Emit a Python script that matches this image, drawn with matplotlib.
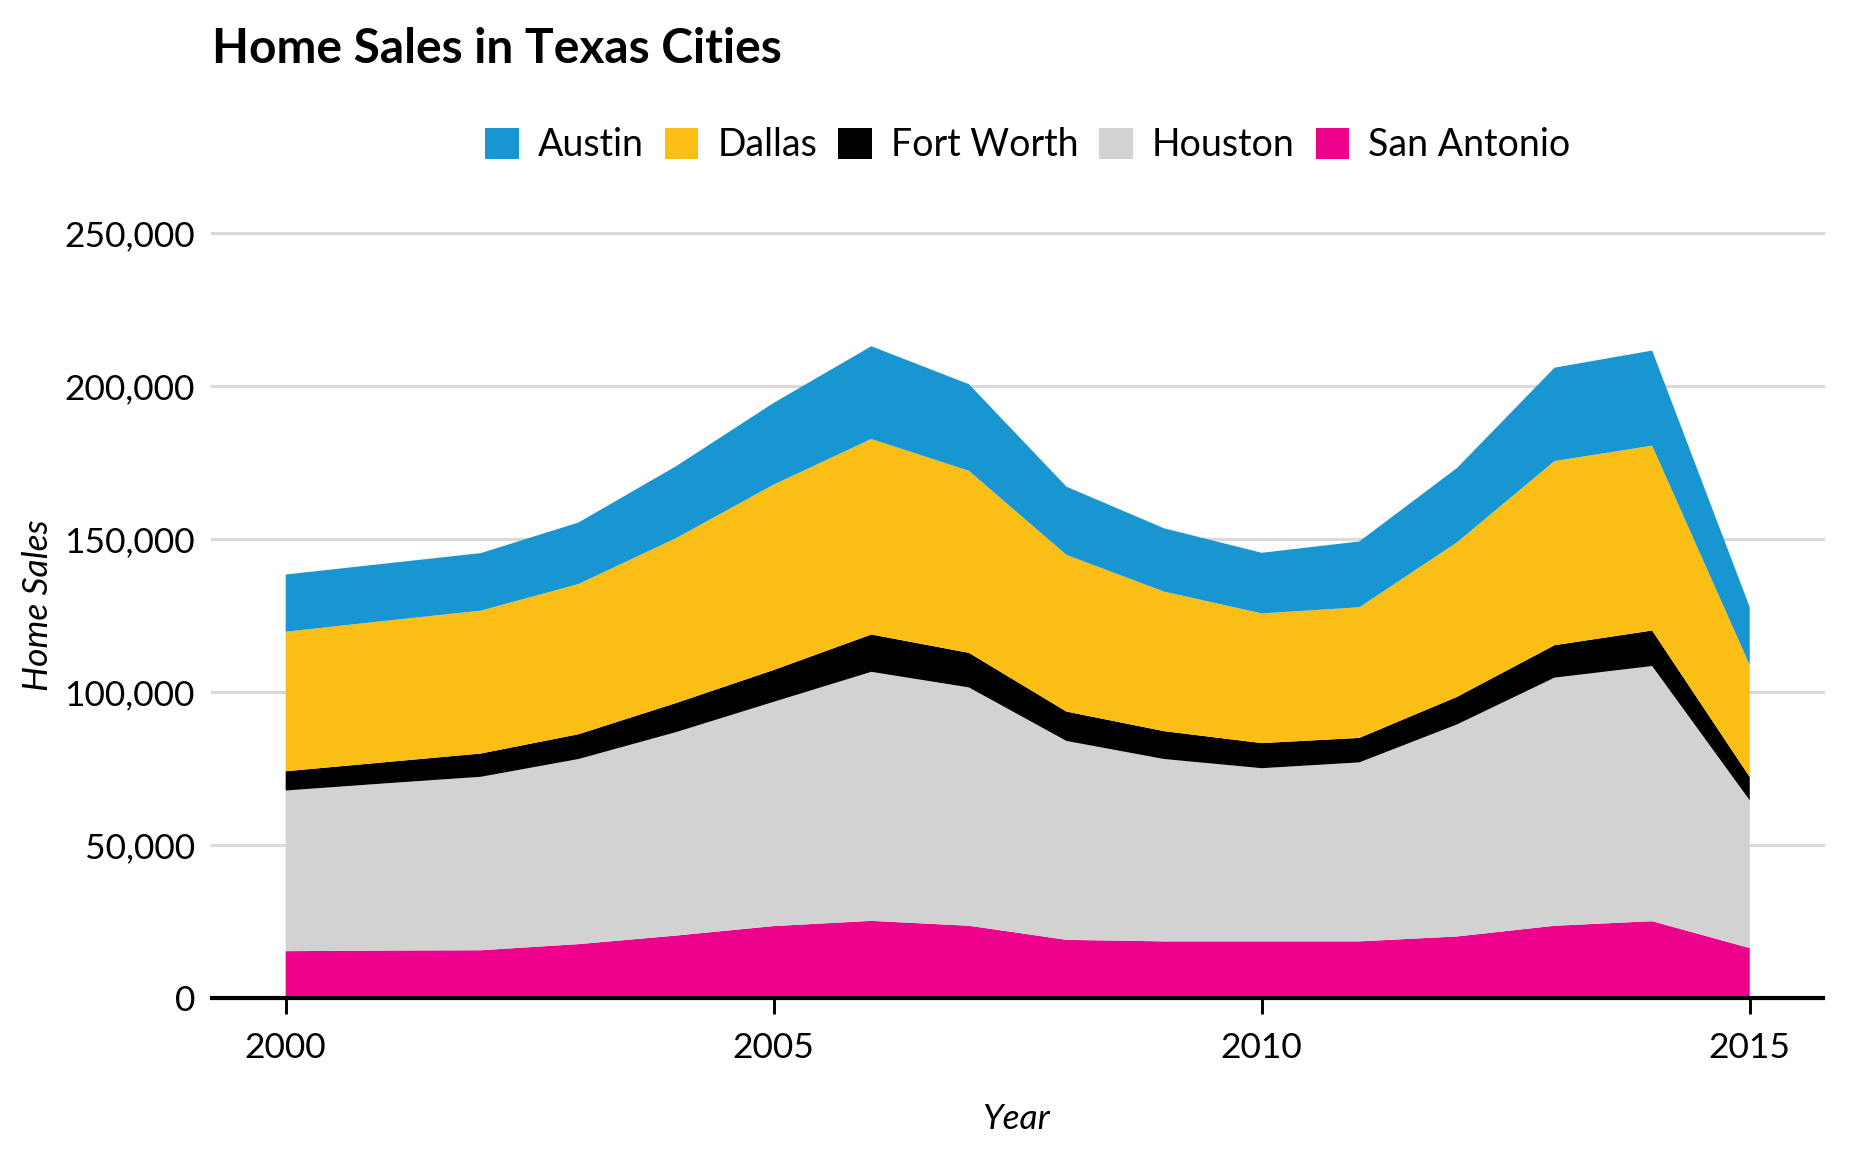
import matplotlib
matplotlib.use("Agg")
import matplotlib.pyplot as plt
from matplotlib.patches import Patch
from matplotlib.ticker import FuncFormatter

plt.rcParams["font.family"] = ["Lato", "DejaVu Sans"]

years = list(range(2000, 2016))
san_antonio = [15300, 15500, 15600, 17600, 20400, 23500, 25200, 23600,
               19000, 18500, 18500, 18500, 20100, 23600, 25100, 16300]
houston = [52500, 54600, 56700, 60500, 66500, 73300, 81400, 77900,
           65000, 59600, 56600, 58500, 69300, 81100, 83400, 48300]
fort_worth = [6300, 6900, 7600, 8100, 9500, 10400, 12200, 11300,
              9600, 9100, 8200, 8000, 9000, 10600, 11600, 7600]
dallas = [45600, 46200, 46700, 49100, 53900, 60600, 63900, 59500,
          51200, 45600, 42400, 42700, 50500, 60200, 60400, 36600]
austin = [18700, 18700, 18800, 20100, 23500, 26700, 30300, 28300,
          22300, 20700, 19800, 21500, 24300, 30500, 31100, 18900]

cities = ["Austin", "Dallas", "Fort Worth", "Houston", "San Antonio"]
colors = {
    "Austin": "#1896d1",
    "Dallas": "#fbbe14",
    "Fort Worth": "#000000",
    "Houston": "#d2d2d2",
    "San Antonio": "#ec008c",
}
y_ticks = [0, 50000, 100000, 150000, 200000, 250000]
x_ticks = [2000, 2005, 2010, 2015]

fig = plt.figure(figsize=(12.48, 7.68), dpi=150)
ax = fig.add_axes([0.1135, 0.1337, 0.8603, 0.664])

# stacked bottom-up: San Antonio first, Austin on top
ax.stackplot(
    years, san_antonio, houston, fort_worth, dallas, austin,
    colors=[colors["San Antonio"], colors["Houston"], colors["Fort Worth"],
            colors["Dallas"], colors["Austin"]],
    linewidth=0, zorder=2,
)

ax.set_xlim(1999.25, 2015.75)
ax.set_ylim(0, 250000)
ax.set_xticks(x_ticks)
ax.set_yticks(y_ticks)
ax.yaxis.set_major_formatter(FuncFormatter(lambda v, _: f"{int(v):,}"))

ax.yaxis.grid(True, color="#d9d9d9", linewidth=1.5, zorder=0, clip_on=False)
ax.set_axisbelow(True)
for spine in ("top", "right", "left"):
    ax.spines[spine].set_visible(False)
ax.spines["bottom"].set_linewidth(2)
ax.spines["bottom"].set_zorder(4)

ax.tick_params(axis="x", length=7.5, width=1.4, pad=9, labelsize=17,
               colors="black")
ax.tick_params(axis="y", length=0, pad=8.4, labelsize=17, colors="black")

fig.text(0.5428, 0.0287, "Year", ha="center", va="center",
         fontsize=17, style="italic")
fig.text(0.0203, 0.4748, "Home Sales", ha="center", va="center",
         fontsize=17, style="italic", rotation=90)

fig.text(0.1135, 0.9453, "Home Sales in Texas Cities", ha="left",
         va="baseline", fontsize=23, fontweight="bold")

handles = [Patch(facecolor=colors[c], edgecolor="none", label=c) for c in cities]
fig.legend(
    handles=handles, loc="center", bbox_to_anchor=(0.549, 0.874), ncol=5,
    frameon=False, fontsize=18, handlelength=0.9, handleheight=0.9,
    handletextpad=0.5, columnspacing=0.56, borderaxespad=0,
)

fig.savefig("out.png", dpi=150, facecolor="white")
